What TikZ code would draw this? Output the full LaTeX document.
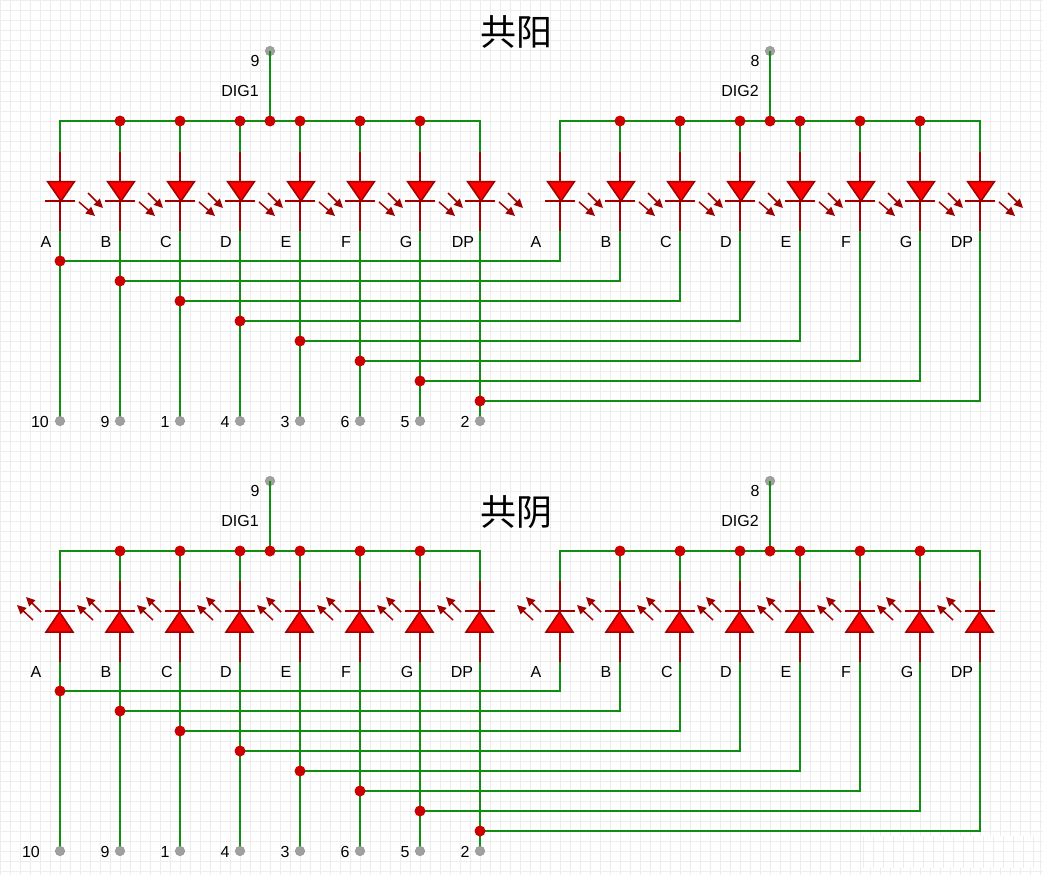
\documentclass[tikz,border=0pt]{standalone}
\usepackage{fontspec}
\setmainfont{Liberation Sans}
\newfontfamily\cjkfont{Noto Sans CJK SC}
\usetikzlibrary{arrows.meta}
\definecolor{gridc}{HTML}{EDEDED}
\definecolor{wirec}{HTML}{0F8F0F}
\definecolor{ledc}{HTML}{FF0000}
\definecolor{darkc}{HTML}{A00000}
\definecolor{dotc}{HTML}{CC0000}
\definecolor{pinc}{HTML}{A0A0A0}
\tikzset{
  x=1pt,y=-1pt,
  gridline/.style={gridc,line width=1pt},
  wire/.style={wirec,line width=2.4pt,line join=miter},
  lead/.style={darkc,line width=2.4pt},
  ledbody/.style={fill=ledc,draw=darkc,line width=1.5pt,line join=miter},
  ray/.style={darkc,line width=1.5pt,-{Triangle[length=9pt,width=8.5pt]}},
  junction/.style={circle,fill=dotc,inner sep=0pt,minimum size=11pt},
  pin/.style={circle,fill=pinc,draw=pinc!90!black,line width=.5pt,inner sep=0pt,minimum size=9.5pt},
  lbl/.style={inner sep=0pt,font=\fontsize{16}{16}\selectfont},
  titlelbl/.style={inner sep=0pt,font=\cjkfont\fontsize{36}{36}\selectfont},
}
\begin{document}
\begin{tikzpicture}
\useasboundingbox (0,0) rectangle (1043,875);
\fill[white] (0,0) rectangle (1043,875);
% grid
\foreach \k in {0,...,104} \draw[gridline] (10*\k,0) -- (10*\k,875);
\foreach \k in {0,...,87} \draw[gridline] (0,10*\k+1) -- (1043,10*\k+1);
\fill[white] (863,836) rectangle (1034,868);
\foreach \k in {0,...,17} \draw[gridline] (863+10*\k,836) -- (863+10*\k,868);
\foreach \k in {0,1,2} \draw[gridline] (863,841+10*\k) -- (1034,841+10*\k);
% titles
\node[titlelbl] (title1) at (516,32) {共阳};
\node[titlelbl] (title2) at (516,512) {共阴};
% ---------- coordinates on each digit's columns
\foreach \bank/\oy in {u/0,l/430}{
  \foreach \dig/\ox/\pinx in {a/0/270,b/500/770}{
    \coordinate (\bank-\dig-top) at (\pinx,121+\oy);
    \foreach \i in {0,...,7}{
      \pgfmathsetmacro{\cx}{60+60*\i+\ox}
      \coordinate (\bank-\dig-bus-\i) at (\cx,121+\oy);
      \coordinate (\bank-\dig-ua-\i) at (\cx,152+\oy);
      \coordinate (\bank-\dig-ub-\i) at (\cx,231+\oy);
    }
  }
}
% terminals and junctions
\foreach \bank/\oy in {u/0,l/430}{
  \node[pin] (\bank-a-pin) at (270,51+\oy) {};
  \node[pin] (\bank-b-pin) at (770,51+\oy) {};
  \foreach \i in {0,...,7}{
    \pgfmathsetmacro{\cx}{60+60*\i}
    \pgfmathsetmacro{\cy}{261+20*\i+\oy}
    \pgfmathsetmacro{\dx}{560+60*\i}
    \coordinate (\bank-c-\i) at (\dx,\cy);
    \coordinate (\bank-j-\i) at (\cx,\cy);
    \coordinate (\bank-t-\i) at (\cx,421+\oy);
  }
}
% green wires
\foreach \bank/\oy in {u/0,l/430}{
  \foreach \dig in {a,b}{
    \draw[wire] (\bank-\dig-ua-0) -- (\bank-\dig-bus-0) -- (\bank-\dig-bus-7) -- (\bank-\dig-ua-7);
    \draw[wire] (\bank-\dig-pin.center) -- (\bank-\dig-top);
    \foreach \i in {1,...,6} \draw[wire] (\bank-\dig-bus-\i) -- (\bank-\dig-ua-\i);
  }
  \foreach \i in {0,...,7}{
    \draw[wire] (\bank-a-ub-\i) -- (\bank-t-\i);
    \draw[wire] (\bank-j-\i) -- (\bank-c-\i) -- (\bank-b-ub-\i);
  }
}
% upper LEDs (cathode down)
\foreach \ox in {0,500}{
  \foreach \i in {0,...,7}{
    \begin{scope}[shift={(60+60*\i+\ox,0)}]
      \draw[lead] (0,152) -- (0,231);
      \draw[ledbody] (-12.5,181.5) -- (14.5,181.5) -- (1,201) -- cycle;
      \draw[darkc,line width=1.5pt] (-15,201) -- (15,201);
      \draw[ray] (19,202) -- (35,216);
      \draw[ray] (28,193) -- (43,208);
    \end{scope}
  }
}
% lower LEDs (cathode up)
\foreach \ox in {0,500}{
  \foreach \i in {0,...,7}{
    \begin{scope}[shift={(60+60*\i+\ox,0)}]
      \draw[lead] (0,581) -- (0,662);
      \draw[ledbody] (-14,632) -- (13,632) -- (-0.5,612) -- cycle;
      \draw[darkc,line width=1.5pt] (-15,611) -- (15,611);
      \draw[ray] (-27,620) -- (-43,605);
      \draw[ray] (-19,612) -- (-34,597);
    \end{scope}
  }
}
% dots
\foreach \bank/\oy in {u/0,l/430}{
  \foreach \ox in {0,500}{
    \foreach \xx in {120,180,240,270,300,360,420}{
      \node[junction] at (\xx+\ox,121+\oy) {};
    }
  }
  \foreach \i in {0,...,7}{
    \node[junction] at (\bank-j-\i) {};
    \node[pin] at (\bank-t-\i) {};
  }
}
% labels
\foreach \t/\x in {A/46,B/106,C/166,D/226,E/286,F/346,G/406,DP/463,A/536,B/606,C/666,D/726,E/786,F/846,G/906,DP/962}
  \node[lbl] at (\x,242) {\t};
\foreach \t/\x in {A/36,B/106,C/167,D/226,E/286,F/346,G/407,DP/462,A/536,B/606,C/667,D/726,E/786,F/846,G/907,DP/962}
  \node[lbl] at (\x,672) {\t};
\foreach \t/\x in {10/40,9/105,1/165,4/225,3/285,6/345,5/405,2/465}
  \node[lbl] at (\x,422) {\t};
\foreach \t/\x in {10/31,9/105,1/165,4/225,3/285,6/345,5/405,2/465}
  \node[lbl] at (\x,852) {\t};
\foreach \oy in {0,430}{
  \node[lbl] at (255,61+\oy) {9};
  \node[lbl] at (240,91+\oy) {DIG1};
  \node[lbl] at (755,61+\oy) {8};
  \node[lbl] at (740,91+\oy) {DIG2};
}
\end{tikzpicture}
\end{document}
